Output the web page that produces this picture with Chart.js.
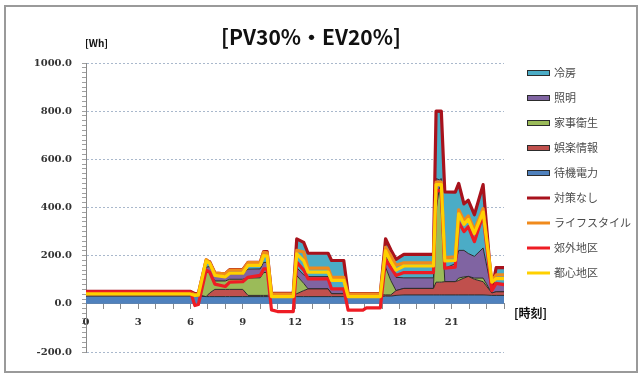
<!DOCTYPE html>
<html>
<head>
<meta charset="utf-8">
<script src="https://cdn.jsdelivr.net/npm/chart.js@4.4.1/dist/chart.umd.min.js"></script>
<style>
  html, body { margin: 0; padding: 0; background: #fff; }
  #c { display: block; }
</style>
</head>
<body>
<canvas id="c" width="641" height="376"></canvas>
<script>
// Time of day [h]
const hours = [0, 6, 6.25, 6.45, 6.9, 7.1, 7.4, 8, 8.25, 9, 9.3, 10, 10.2, 10.4, 10.65, 11, 11.9,
  12.1, 12.5, 12.75, 13.9, 14.1, 14.8, 15.05, 15.9, 16.1, 16.9, 17.2, 17.5, 17.8, 18.25, 19.95,
  20.1, 20.3, 20.4, 20.6, 21.2, 21.4, 21.7, 21.95, 22.3, 22.8, 23.3, 23.55, 24];

// Stacked demand by use [Wh]
const standby = [32, 32, 32, 32, 30, 30, 30, 30, 30, 30, 30, 30, 30, 30, 30, 30, 30,
  30, 30, 30, 30, 30, 30, 30, 30, 30, 30, 32, 32, 35, 37, 37,
  37, 37, 37, 37, 37, 37, 37, 37, 37, 37, 35, 35, 35];
const entertainment = [8, 8, 5, 5, 0, 15, 30, 30, 30, 30, 5, 5, 5, 5, 8, 8, 8,
  12, 25, 32, 32, 12, 12, 8, 8, 8, 8, 5, 5, 20, 27, 27,
  53, 53, 53, 55, 55, 60, 70, 77, 65, 55, 10, 15, 15];
const housework = [0, 0, 0, 3, 100, 85, 35, 35, 42, 42, 72, 73, 95, 95, 0, 0, 0,
  75, 30, 0, 0, 0, 0, 0, 0, 0, 0, 115, 60, 0, 0, 0,
  300, 395, 300, 0, 0, 10, 5, 0, 5, 15, 0, 0, 0];
const lighting = [0, 0, 0, 0, 22, 25, 20, 22, 23, 23, 37, 37, 42, 42, 0, 0, 0,
  33, 35, 51, 51, 20, 20, 0, 0, 0, 0, 45, 60, 55, 44, 44,
  130, 30, 130, 55, 75, 115, 110, 95, 90, 125, 10, 35, 35];
const cooling = [12, 12, 5, 2, 28, 20, 13, 8, 17, 17, 28, 27, 45, 45, 6, 6, 6,
  120, 135, 97, 97, 118, 118, 4, 4, 4, 4, 73, 68, 75, 97, 97,
  280, 280, 280, 318, 297, 278, 193, 221, 173, 263, 5, 65, 65];

// Scenario totals [Wh]
const noMeasures = [52, 52, 42, 42, 180, 175, 128, 125, 142, 142, 172, 172, 217, 217, 44, 44, 44,
  270, 255, 210, 210, 180, 180, 42, 42, 42, 42, 270, 225, 185, 205, 205,
  800, 800, 800, 465, 464, 500, 415, 430, 370, 495, 60, 150, 150];
const lifestyle = [46, 46, 38, 40, 184, 172, 128, 125, 140, 140, 171, 171, 214, 212, 40, 40, 40,
  222, 215, 148, 148, 110, 110, 40, 40, 40, 40, 235, 200, 160, 170, 170,
  505, 505, 505, 192, 195, 390, 345, 365, 305, 395, 95, 120, 120];
const suburban = [50, 50, -7, -3, 140, 132, 82, 72, 90, 92, 110, 118, 145, 145, -25, -32, -32,
  173, 140, 104, 104, 62, 62, -26, -26, -17, -17, 185, 150, 118, 130, 130,
  470, 470, 470, 148, 152, 339, 300, 320, 258, 370, 55, 85, 80];
const urban = [41, 41, 35, 36, 178, 168, 118, 112, 127, 127, 160, 160, 200, 198, 30, 30, 30,
  208, 178, 132, 132, 97, 97, 30, 30, 30, 30, 220, 175, 140, 157, 157,
  495, 495, 495, 178, 180, 374, 330, 350, 292, 381, 90, 105, 105];

// Axis labels
const xLabelHours = [0, 3, 6, 9, 12, 15, 18, 21];
const yMin = -200, yMax = 1000, yMajor = 200, yMinor = 20;

const toPoints = arr => hours.map((h, i) => ({ x: h, y: arr[i] }));

const AREA_EDGE = '#2c2c2c';
function areaSet(label, arr, color, first) {
  return {
    label, kind: 'area', data: toPoints(arr),
    backgroundColor: color, borderColor: AREA_EDGE, borderWidth: 1,
    fill: first ? 'origin' : '-1', stack: 'load', order: 10,
    pointRadius: 0, tension: 0
  };
}
function lineSet(label, arr, color, order) {
  return {
    label, kind: 'line', data: toPoints(arr),
    borderColor: color, backgroundColor: color, borderWidth: 3.2,
    borderJoinStyle: 'round', borderCapStyle: 'round',
    fill: false, stack: 'line' + order, order,
    pointRadius: 0, tension: 0
  };
}

const datasets = [
  areaSet('待機電力', standby, '#4f81bd', true),
  areaSet('娯楽情報', entertainment, '#c0504d', false),
  areaSet('家事衛生', housework, '#9bbb59', false),
  areaSet('照明', lighting, '#8064a2', false),
  areaSet('冷房', cooling, '#4bacc6', false),
  lineSet('対策なし', noMeasures, '#a8121c', 4),
  lineSet('ライフスタイル', lifestyle, '#f08a1c', 3),
  lineSet('郊外地区', suburban, '#ee1c24', 2),
  lineSet('都心地区', urban, '#ffd000', 1)
];

// Legend order: areas top-down, then the scenario lines
const legendOrder = [4, 3, 2, 1, 0, 5, 6, 7, 8];

const JP = '"Noto Sans CJK JP", "Noto Sans", sans-serif';
const NUM = '"DejaVu Serif", "Liberation Serif", serif';

const decor = {
  id: 'decor',
  beforeDraw(chart) {
    const ctx = chart.ctx;
    ctx.save();
    ctx.fillStyle = '#fff';
    ctx.fillRect(0, 0, chart.width, chart.height);
    ctx.strokeStyle = '#9a9a9a';
    ctx.lineWidth = 2;
    ctx.strokeRect(5, 6, 632, 366);
    ctx.restore();
  },
  afterDraw(chart) {
    const ctx = chart.ctx;
    ctx.save();
    ctx.fillStyle = '#111';
    ctx.textBaseline = 'middle';
    ctx.textAlign = 'center';
    ctx.font = 'bold 21px ' + JP;
    ctx.fillText('[PV30%・EV20%]', 311, 37);
    ctx.textAlign = 'left';
    ctx.font = 'bold 10px ' + JP;
    ctx.fillText('[Wh]', 85, 43);
    ctx.font = 'bold 12px ' + JP;
    ctx.fillText('[時刻]', 514, 313);

    ctx.font = '11px ' + JP;
    legendOrder.forEach((idx, k) => {
      const ds = chart.data.datasets[idx];
      const y = 73 + k * 25;
      if (ds.kind === 'area') {
        ctx.fillStyle = ds.backgroundColor;
        ctx.fillRect(527, y - 3, 23, 6);
        ctx.strokeStyle = AREA_EDGE;
        ctx.lineWidth = 1;
        ctx.strokeRect(527.5, y - 2.5, 22, 5);
      } else {
        ctx.strokeStyle = ds.borderColor;
        ctx.lineWidth = 3;
        ctx.beginPath();
        ctx.moveTo(527, y);
        ctx.lineTo(550, y);
        ctx.stroke();
      }
      ctx.fillStyle = '#4a4a4a';
      ctx.fillText(ds.label, 554, y);
    });
    ctx.restore();
  }
};

new Chart(document.getElementById('c'), {
  type: 'line',
  data: { datasets },
  plugins: [decor],
  options: {
    responsive: false,
    animation: false,
    events: [],
    layout: { padding: { left: 0, right: 137, top: 63, bottom: 24 } },
    plugins: { legend: { display: false }, tooltip: { enabled: false }, title: { display: false } },
    scales: {
      x: {
        type: 'linear', min: 0, max: 24,
        position: { y: 0 },
        afterFit: s => { s.height = 0; },
        ticks: {
          stepSize: 1, autoSkip: false, maxRotation: 0, padding: 8,
          color: '#333', font: { family: NUM, weight: 'bold', size: 10 },
          callback: v => xLabelHours.includes(v) ? String(v) : ''
        },
        grid: { drawOnChartArea: false, drawTicks: true, tickLength: 5, tickColor: '#8a8a8a' },
        border: { display: true, color: '#8a8a8a', width: 1 }
      },
      y: {
        type: 'linear', stacked: true, min: yMin, max: yMax,
        afterFit: s => { s.width = 86; },
        ticks: {
          stepSize: yMinor, autoSkip: false, padding: 10,
          color: '#333', font: { family: NUM, weight: 'bold', size: 10 },
          callback: v => (Math.round(v) % yMajor === 0) ? Number(v).toFixed(1) : ''
        },
        grid: {
          color: c => (c.tick && Math.round(c.tick.value) % yMajor === 0) ? '#a9b8cc' : 'rgba(0,0,0,0)',
          tickColor: '#a0a0a0', tickLength: 4, lineWidth: 1
        },
        border: { display: true, color: '#8a8a8a', width: 1, dash: [2, 2] }
      }
    }
  }
});
</script>
</body>
</html>
